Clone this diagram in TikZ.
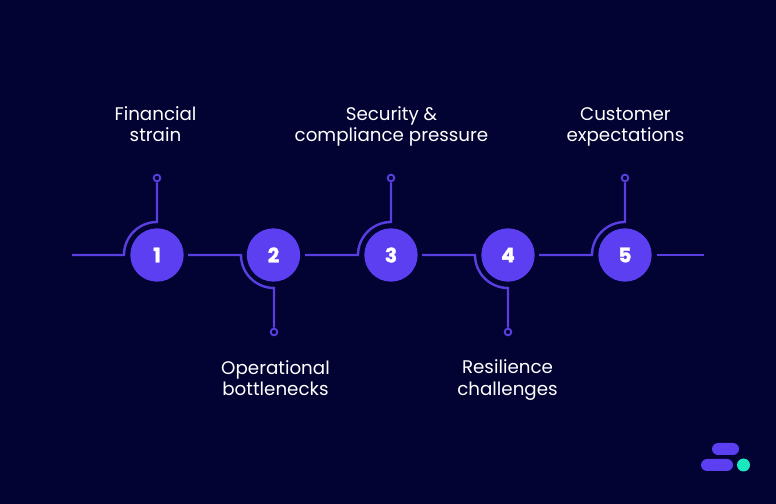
\documentclass[tikz,border=0pt]{standalone}
\usepackage{fontspec}
\setmainfont{Poppins}[BoldFeatures={FakeBold=1.6}]
\definecolor{night}{HTML}{020233}
\definecolor{violet1}{HTML}{5B3FF0}
\definecolor{violet2}{HTML}{5A3FE0}
\definecolor{mint}{HTML}{1BE8BE}
\begin{document}
\begin{tikzpicture}
    [x=0.75pt, y=0.75pt,
 num/.style ={circle, fill=violet1, text=white, font=\fontsize{15}{16}\selectfont\bfseries, inner sep=0pt, minimum size=40pt},
 pin/.style ={circle, draw=violet2, line width=1.4pt, inner sep=0pt, minimum size=5pt},
 link/.style ={draw=violet2, line width=1.8pt},
 label/.style ={text=white, font=\fontsize{13.7}{15.8}\selectfont, align=center},
 pill/.style ={fill=violet1, rounded corners=4.5pt}]
    \fill[night] (0, 0) rectangle (776, 504);
    \useasboundingbox (0, 0) rectangle (776, 504);
        \node[num] (n1) at (157, 249) {1};
        \node[num] (n2) at (273.5, 249) {2};
        \node[num] (n3) at (391, 249) {3};
        \node[num] (n4) at (508, 249) {4};
        \node[num] (n5) at (625, 249) {\raisebox{-0.75pt}{5}};
        \node[pin] (p1) at (157, 326) {};
        \node[pin] (p2) at (274, 172) {};
        \node[pin] (p3) at (391, 326) {};
        \node[pin] (p4) at (508, 172) {};
        \node[pin] (p5) at (625, 326) {};
        \coordinate (s0) at (72, 249);
        \coordinate (e0) at (704, 249);
        \coordinate (a1) at (124, 249);
        \coordinate (a2) at (241, 249);
        \coordinate (a3) at (358, 249);
        \coordinate (a4) at (475, 249);
        \coordinate (a5) at (592, 249);
        \coordinate (s1) at (188, 249);
        \coordinate (s2) at (305, 249);
        \coordinate (s3) at (422, 249);
        \coordinate (s4) at (539, 249);
        \coordinate (s5) at (657, 249);
        % up and down connectors
        \draw[link] (s0) -- (a1) arc[start angle=180, end angle=90, radius=33] -- (p1.south);
        \draw[link] (s1) -- (a2) arc[start angle=180, end angle=270, radius=33] -- (p2.north);
        \draw[link] (s2) -- (a3) arc[start angle=180, end angle=90, radius=33] -- (p3.south);
        \draw[link] (s3) -- (a4) arc[start angle=180, end angle=270, radius=33] -- (p4.north);
        \draw[link] (s4) -- (a5) arc[start angle=180, end angle=90, radius=33] -- (p5.south);
        \draw[link] (s5) -- (e0);
        \node[label] (t1) at (155.5, 380) {Financial\\strain};
        \node[label] (t2) at (275.5, 126) {Operational\\bottlenecks};
        \node[label] (t3) at (391.5, 378) {Security \&\\compliance pressure};
        \node[label] (t4) at (507.5, 124) {Resilience\\challenges};
        \node[label] (t5) at (625.5, 377.5) {Customer\\expectations};
        % logo
        \fill[pill] (712, 49) rectangle (739, 61);
        \fill[pill] (701, 33) rectangle (733, 45);
        \fill[mint] (743.5, 39) circle[radius=6.5];
    \end{tikzpicture}
\end{document}
